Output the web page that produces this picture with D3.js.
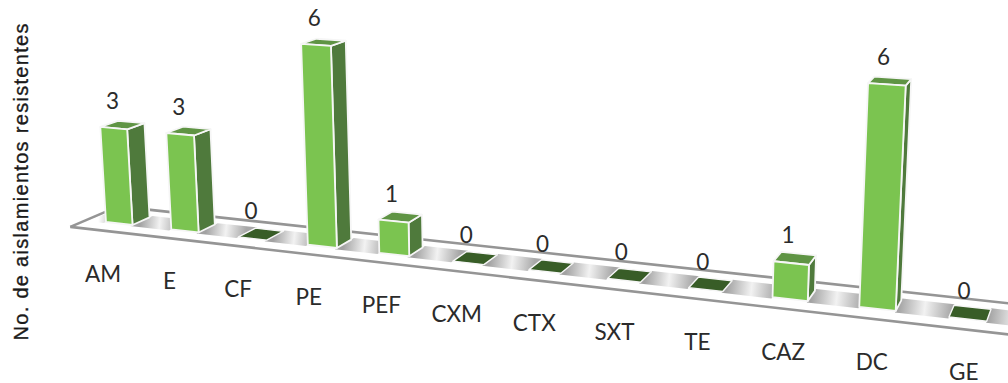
<!DOCTYPE html>
<html>
<head>
<meta charset="utf-8">
<script src="https://cdn.jsdelivr.net/npm/d3@7"></script>
<style>
  html, body { margin: 0; padding: 0; background: #fff; }
  svg { display: block; }
  text { fill: #2b2b2b; }
</style>
</head>
<body>
<svg id="chart" width="1008" height="383"></svg>
<script>
const categories = ["AM", "E", "CF", "PE", "PEF", "CXM", "CTX", "SXT", "TE", "CAZ", "DC", "GE"];
const values = [3, 3, 0, 6, 1, 0, 0, 0, 0, 1, 6, 0];
const yTitle = "No. de aislamientos resistentes";

const svg = d3.select("#chart");
const defs = svg.append("defs");

const uScale = d3.scaleLinear().domain([0, 11]).range([0, 11]);
const barWidth = 0.41;
const barDepth = 1.1;
const tileDepth = 1.2;

// Homogeneous camera: world (u along the axis, d into the floor, v up) to screen.
function project(u, d, v) {
  const uu = uScale(u);
  const w = 1 - 0.01459 * uu + 0.0147 * d - 0.0041 * v;
  const x = 106 + 62.79 * uu + 17.56 * d - 2.3 * v;
  const y = 222 + 4.01 * uu - 3.73 * d - 32.2 * v;
  return [x / w, y / w];
}
const poly = pts => pts.map(p => p.join(",")).join(" ");
const lineGen = d3.line();

// Floor: the outer rails and the closing left edge.
const floorU = [-0.3, 13];
const g = svg.append("g");
const rail = d => [project(floorU[0], d, 0), project(floorU[1], d, 0)];
const floorEdge = [project(floorU[0], 2, 0), project(floorU[0], -1, 0)];

[rail(2), rail(-1), floorEdge].forEach(seg => {
  g.append("path").attr("d", lineGen(seg))
    .attr("stroke", "#959595")
    .attr("stroke-width", 2.6)
    .attr("stroke-linejoin", "round")
    .attr("fill", "none");
});

// Shaded strip between neighbouring bars, dark against each bar and pale midway.
// The piece left of the first bar only fades out.
const gaps = d3.range(-1, 12).map(i => ({
  i,
  from: i < 0 ? -0.24 : i + barWidth,
  to: i + 1,
  stops: i < 0
    ? [[0, "#ffffff"], [1, "#b4b4b4"]]
    : [[0, "#a2a2a2"], [0.5, "#f2f2f2"], [1, "#a8a8a8"]]
}));
gaps.forEach(gap => {
  const a = project(gap.from, 0.5, 0), b = project(gap.to, 0.5, 0);
  const id = "gap" + (gap.i + 1);
  const grad = defs.append("linearGradient").attr("id", id)
    .attr("gradientUnits", "userSpaceOnUse")
    .attr("x1", a[0]).attr("y1", a[1]).attr("x2", b[0]).attr("y2", b[1]);
  gap.stops.forEach(([o, c]) => grad.append("stop").attr("offset", o).attr("stop-color", c));
  g.append("polygon")
    .attr("points", poly([
      project(gap.from, -0.15, 0), project(gap.to, -0.15, 0),
      project(gap.to, 1.3, 0), project(gap.from, 1.3, 0)
    ]))
    .attr("fill", `url(#${id})`);
});

// Bars, each built from its front, side and top faces.
const bars = svg.append("g").selectAll("g")
  .data(categories.map((c, i) => ({ c, i, v: values[i] })))
  .join("g");

function face(sel, pts, fill, width) {
  sel.append("polygon").attr("points", poly(pts)).attr("fill", fill)
    .attr("stroke", "#f6f6f6").attr("stroke-width", width)
    .attr("stroke-linejoin", "round");
}
bars.each(function (b) {
  const s = d3.select(this);
  const u0 = b.i, u1 = b.i + barWidth;
  if (b.v === 0) {
    face(s, [project(u0, 0, 0), project(u1, 0, 0), project(u1, tileDepth, 0), project(u0, tileDepth, 0)], "#385d27", 1.4);
    return;
  }
  face(s, [project(u1, 0, 0), project(u1, barDepth, 0), project(u1, barDepth, b.v), project(u1, 0, b.v)], "#4f7a3c", 1.8);
  face(s, [project(u0, 0, b.v), project(u1, 0, b.v), project(u1, barDepth, b.v), project(u0, barDepth, b.v)], "#5f9444", 1.8);
  face(s, [project(u0, 0, 0), project(u1, 0, 0), project(u1, 0, b.v), project(u0, 0, b.v)], "#7bc450", 1.8);
});

// Value labels above each bar.
svg.append("g").selectAll("text")
  .data(categories.map((c, i) => ({ i, v: values[i] })))
  .join("text")
  .attr("x", d => project(d.i + barWidth / 2, 0.2, d.v)[0] - 4.5)
  .attr("y", d => project(d.i + barWidth / 2, 0.2, d.v)[1] - 26)
  .attr("dy", "0.35em")
  .attr("text-anchor", "middle")
  .style("font", "22.5px Lato")
  .text(d => d.v);

// Category labels in front of the floor.
svg.append("g").selectAll("text")
  .data(categories)
  .join("text")
  .attr("x", (c, i) => project(i + barWidth / 2, -1, 0)[0])
  .attr("y", (c, i) => project(i + barWidth / 2, -1, 0)[1] + 43)
  .attr("dy", "0.35em")
  .attr("text-anchor", "middle")
  .style("font", "22.5px Lato")
  .text(c => c);

// Rotated axis title.
svg.append("text")
  .attr("transform", "translate(21,182) rotate(-90)")
  .attr("text-anchor", "middle")
  .attr("dy", "0.35em")
  .attr("textLength", 317)
  .attr("lengthAdjust", "spacing")
  .style("font", "20px 'Liberation Sans'")
  .style("fill", "#1a1a1a")
  .style("stroke", "#1a1a1a")
  .style("stroke-width", 0.35)
  .text(yTitle);
</script>
</body>
</html>
